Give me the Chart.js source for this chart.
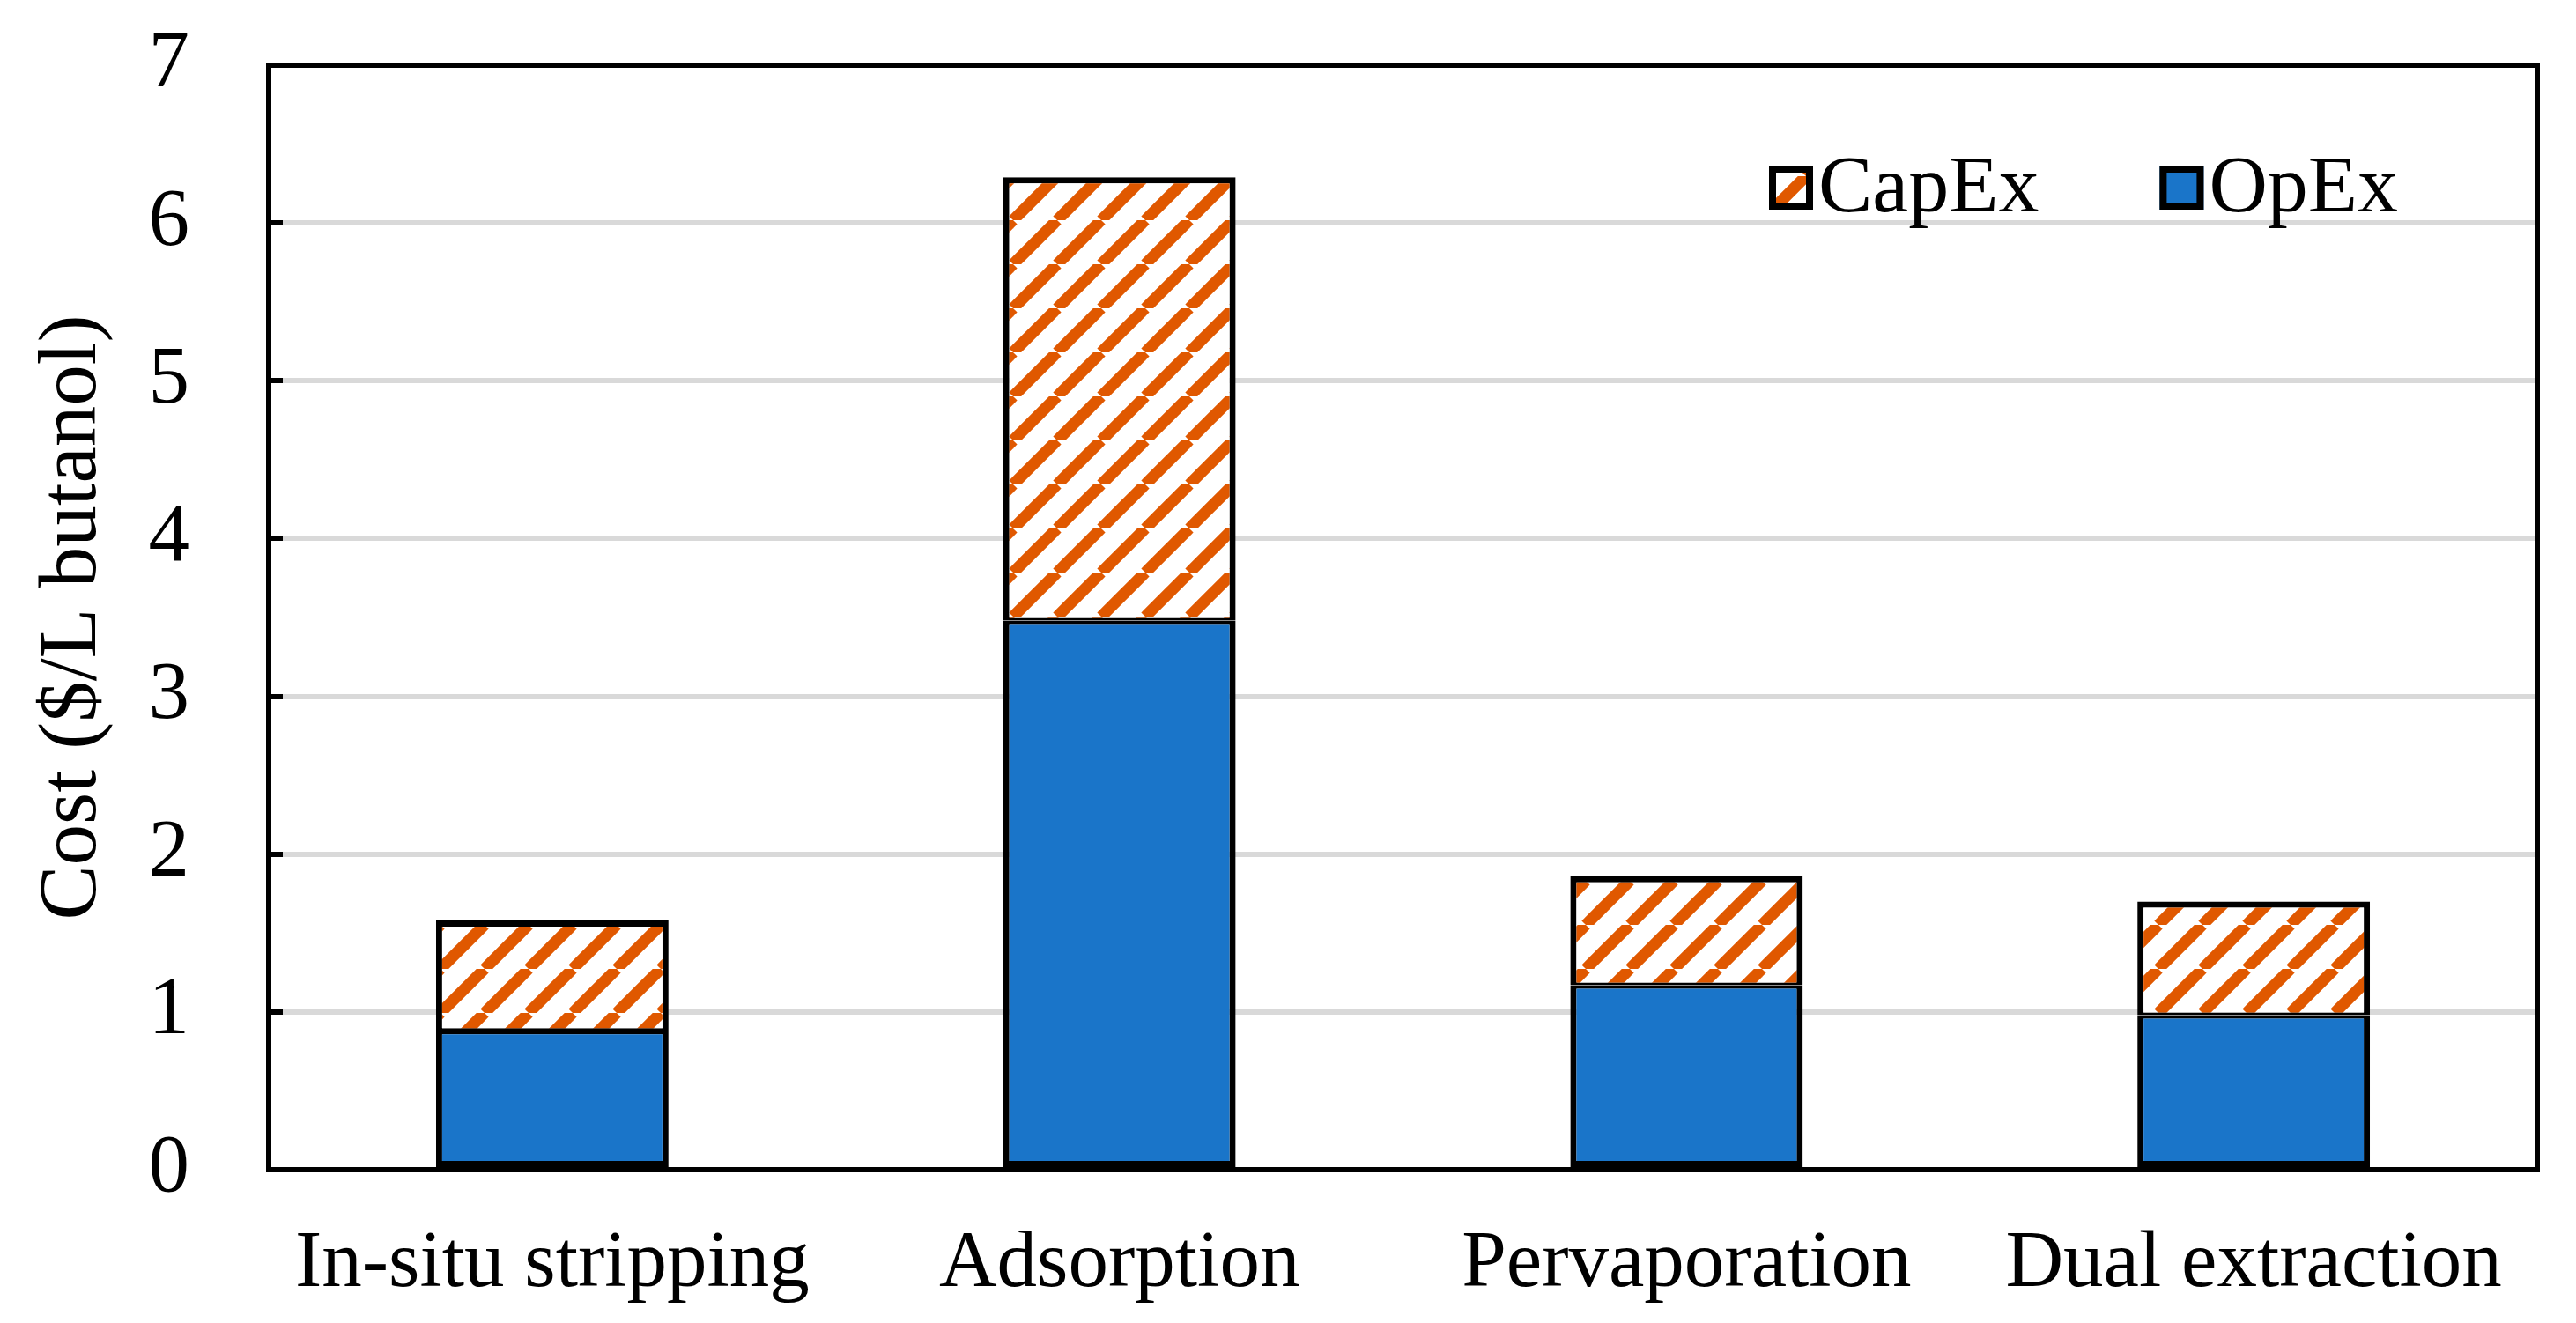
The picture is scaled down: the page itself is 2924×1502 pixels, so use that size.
<!DOCTYPE html>
<html>
<head>
<meta charset="utf-8">
<script src="https://cdn.jsdelivr.net/npm/chart.js@4.4.0/dist/chart.umd.min.js"></script>
<style>
  html, body { margin: 0; padding: 0; background: #fff; }
  #wrap { width: 2924px; height: 1502px; position: relative; }
</style>
</head>
<body>
<div id="wrap"><canvas id="costChart"></canvas></div>
<script>
// values
const categories = ['In-situ stripping', 'Adsorption', 'Pervaporation', 'Dual extraction'];
const opex = [0.88, 3.48, 1.17, 0.98];
const capex = [0.70, 2.81, 0.69, 0.72];
const yTicks = [0, 1, 2, 3, 4, 5, 6, 7];

const FONT = "'Liberation Serif', 'Times New Roman', serif";
const BLUE = '#1a75c9';
const ORANGE = '#e05800';

// diagonal hatch for CapEx (45 deg, 50px repeat)
function makeHatch() {
    const w = 50, h = 50;
    const c = document.createElement('canvas');
    c.width = w; c.height = h;
    const g = c.getContext('2d');
    g.fillStyle = '#fff';
    g.fillRect(0, 0, w, h);
    g.strokeStyle = ORANGE;
    g.lineWidth = 13;
    [-w, 0, w].forEach(dx => {
        g.beginPath();
        g.moveTo(dx, h);
        g.lineTo(dx + w, 0);
        g.stroke();
    });
    return g.createPattern(c, 'repeat');
}

const ctx = document.getElementById('costChart').getContext('2d');
const hatch = makeHatch();

// closes the frame on top and right
const frameBox = {
    id: 'frameBox',
    afterDatasetsDraw(chart) {
        const a = chart.chartArea, g = chart.ctx;
        g.save();
        g.strokeStyle = '#000';
        g.lineWidth = 6;
        g.strokeRect(a.left, a.top, a.right - a.left, a.bottom - a.top);
        g.restore();
    }
};

// legend inside plot, top right (CapEx first, like the figure)
const innerLegend = {
    id: 'innerLegend',
    afterDraw(chart) {
        const g = chart.ctx;
        const items = chart.data.datasets.slice().reverse();
        let x = 2008;
        const box = 50, yMid = 213;
        g.save();
        g.font = '92px ' + FONT;
        g.textBaseline = 'alphabetic';
        g.textAlign = 'left';
        items.forEach(ds => {
            g.fillStyle = ds.backgroundColor;
            g.fillRect(x, yMid - box / 2, box, box);
            g.strokeStyle = '#000';
            g.lineWidth = 8;
            g.strokeRect(x + 4, yMid - box / 2 + 4, box - 8, box - 8);
            g.fillStyle = '#000';
            g.fillText(ds.label, x + box + 6, 240);
            x += box + 6 + g.measureText(ds.label).width + 137;
        });
        g.restore();
    }
};

new Chart(ctx, {
    type: 'bar',
    data: {
        labels: categories,
        datasets: [{
            label: 'OpEx',
            data: opex,
            backgroundColor: BLUE,
            borderColor: '#000',
            borderWidth: { top: 4, left: 7, right: 7, bottom: 7 },
            borderSkipped: false
        }, {
            label: 'CapEx',
            data: capex,
            backgroundColor: hatch,
            borderColor: '#000',
            borderWidth: { top: 7, left: 7, right: 7, bottom: 3 },
            borderSkipped: false
        }]
    },
    options: {
        responsive: true,
        maintainAspectRatio: false,
        devicePixelRatio: 1,
        animation: false,
        layout: { padding: { top: 74, right: 44, left: 0, bottom: 0 } },
        plugins: {
            legend: { display: false },
            tooltip: { enabled: false }
        },
        datasets: {
            bar: { categoryPercentage: 1, barPercentage: 0.41 }
        },
        scales: {
            x: {
                stacked: true,
                grid: { display: false, drawTicks: false },
                border: { display: true, color: '#000', width: 6 },
                ticks: {
                    color: '#000',
                    padding: 53,
                    font: { family: FONT, size: 91 }
                },
                afterFit: s => { s.height = 174; s.paddingLeft = 0; s.paddingRight = 0; }
            },
            y: {
                stacked: true,
                min: 0,
                max: 7,
                afterBuildTicks: s => { s.ticks = yTicks.map(v => ({ value: v })); },
                grid: {
                    color: c => (c.tick && (c.tick.value === 0 || c.tick.value === 7)) ? 'rgba(0,0,0,0)' : '#d9d9d9',
                    lineWidth: 6,
                    tickLength: -16,
                    tickColor: '#000',
                    tickWidth: 6
                },
                border: { display: true, color: '#000', width: 6 },
                ticks: {
                    color: '#000',
                    padding: 106,
                    font: { family: FONT, size: 93 }
                },
                title: {
                    display: true,
                    text: 'Cost ($/L butanol)',
                    color: '#000',
                    font: { family: FONT, size: 93 },
                    padding: { top: 28, bottom: 0 }
                },
                afterFit: s => { s.width = 305; s.paddingTop = 0; s.paddingBottom = 0; }
            }
        }
    },
    plugins: [frameBox, innerLegend]
});
</script>
</body>
</html>
